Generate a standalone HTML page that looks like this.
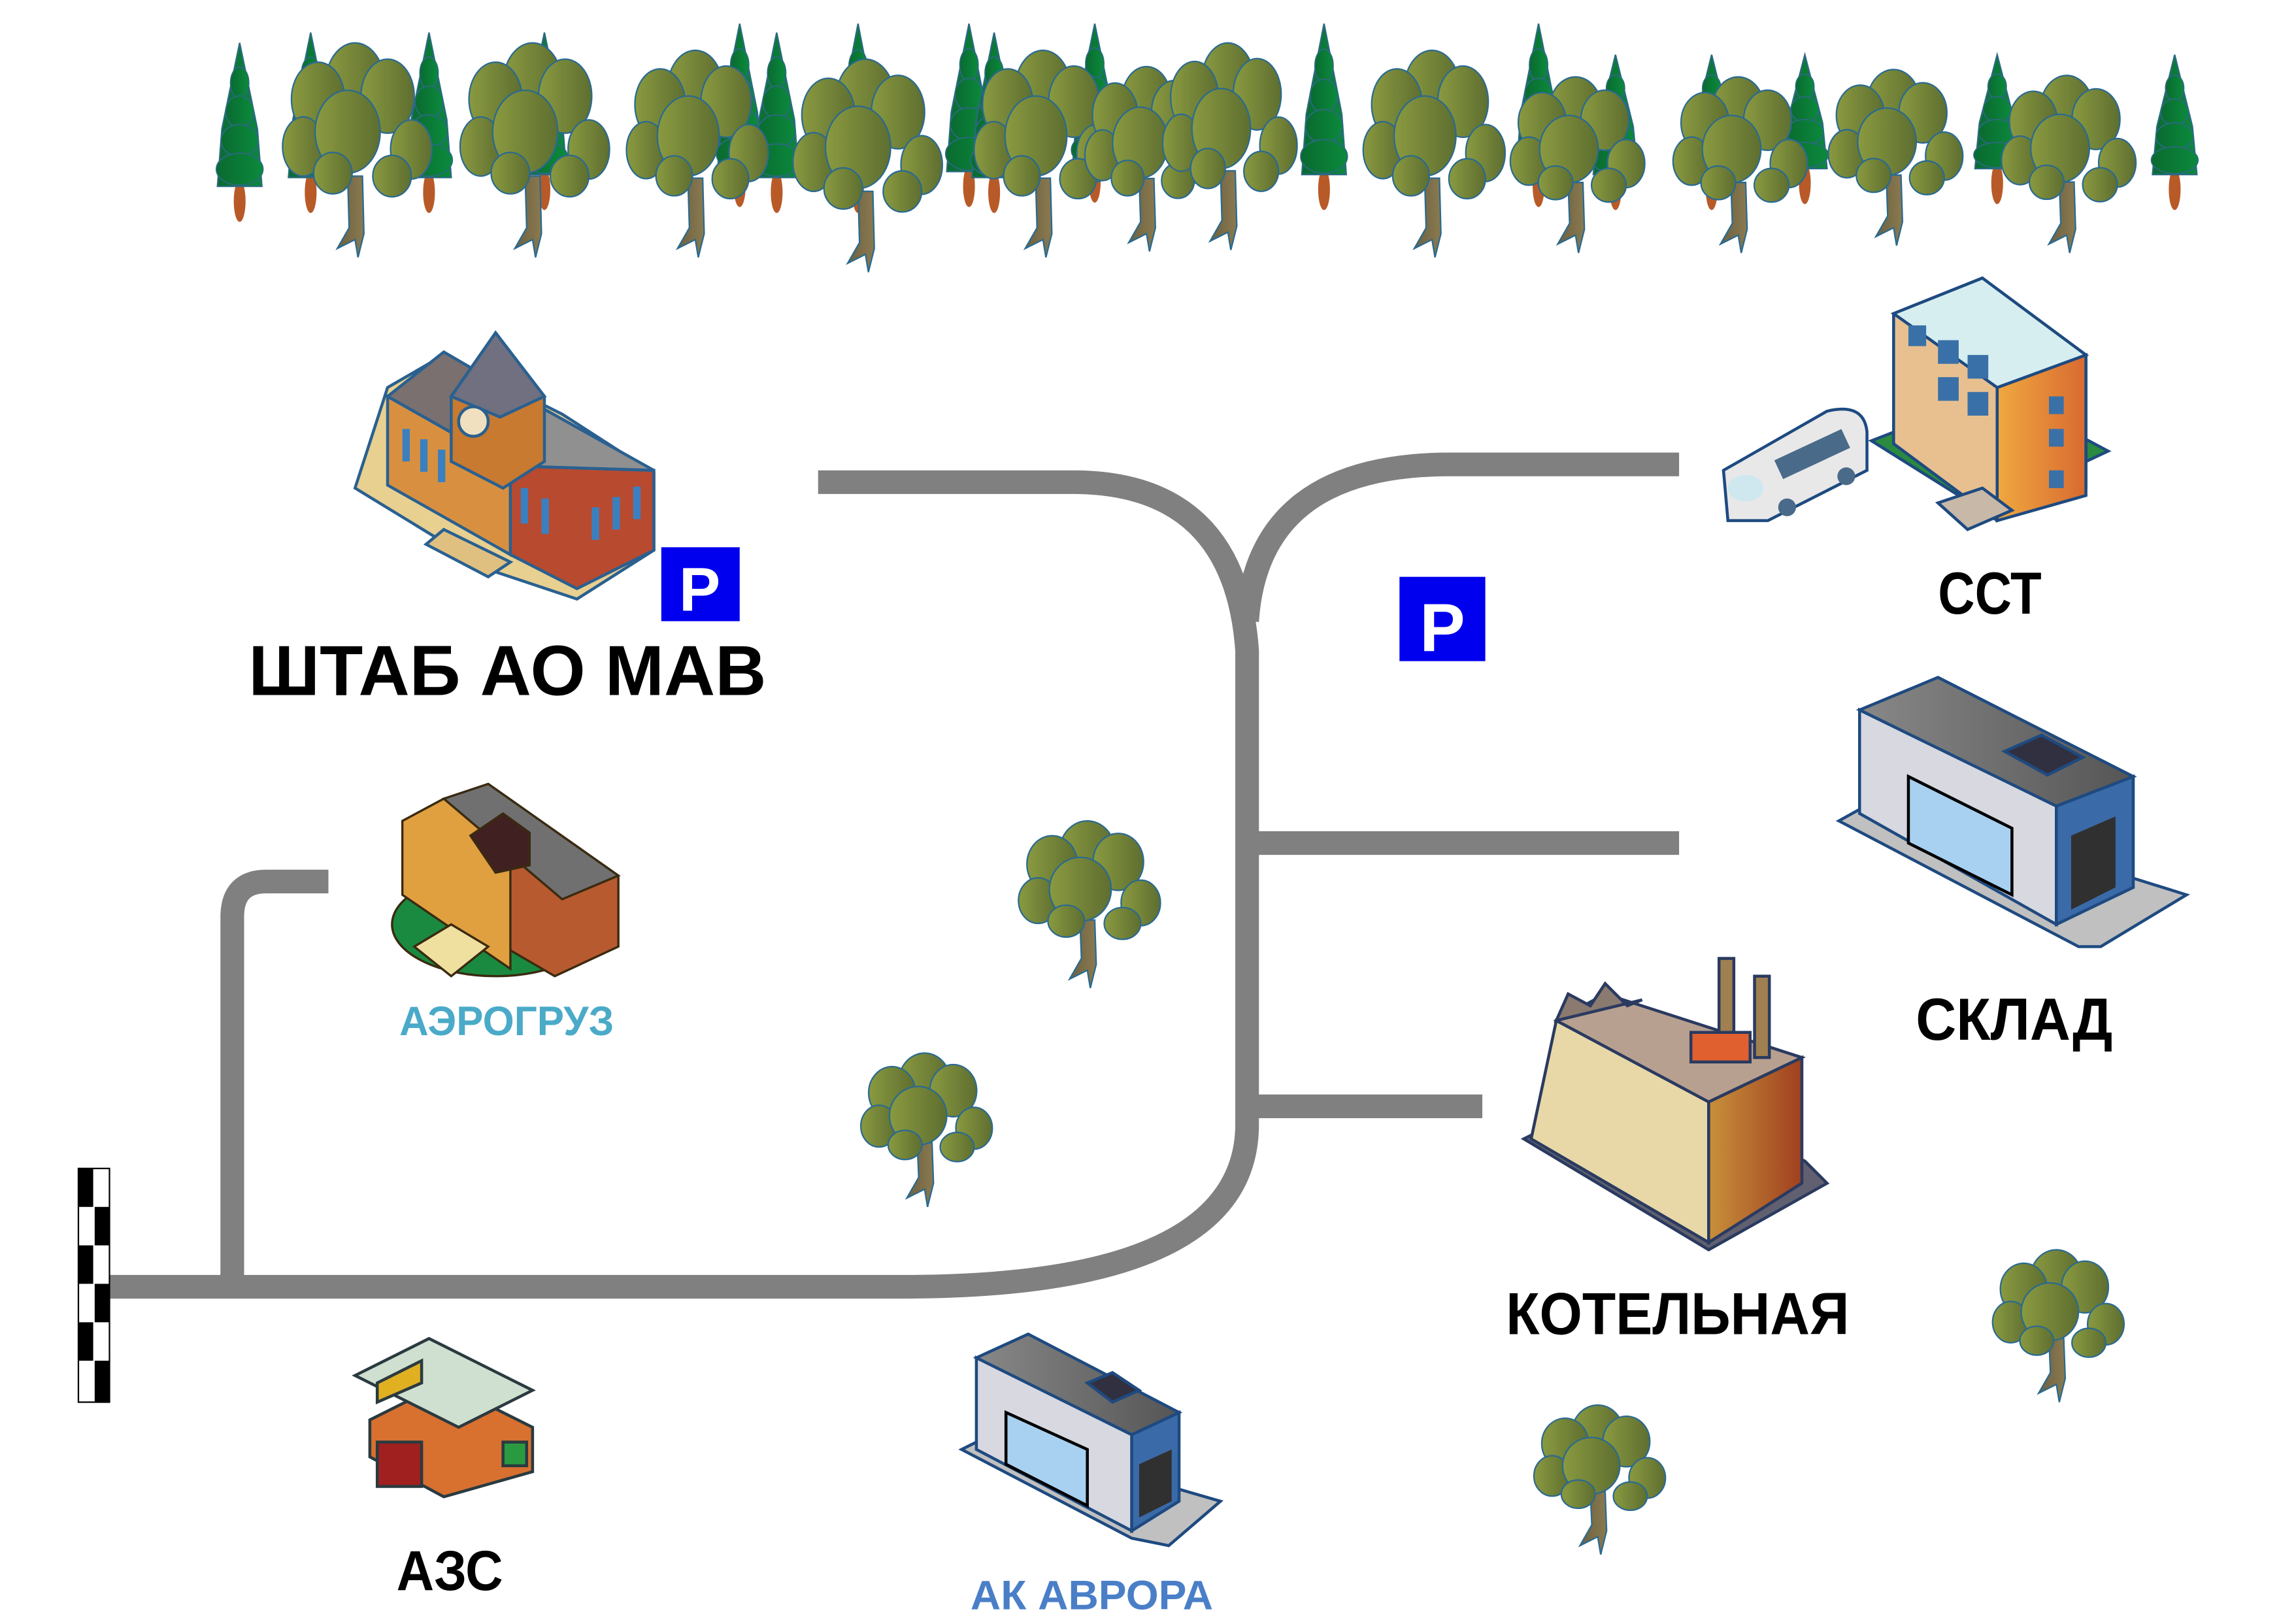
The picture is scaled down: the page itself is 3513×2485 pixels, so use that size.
<!DOCTYPE html>
<html><head><meta charset="utf-8">
<style>
html,body{margin:0;padding:0;background:#fff;}
svg{display:block;}
text{font-family:"Liberation Sans","DejaVu Sans",sans-serif;font-weight:bold;}
</style></head>
<body>
<svg id="s" width="3513" height="2485" viewBox="0 0 1552 1098" preserveAspectRatio="none" xmlns="http://www.w3.org/2000/svg">
<defs>
<linearGradient id="ol" x1="0" x2="1"><stop offset="0" stop-color="#8a9a40"/><stop offset="1" stop-color="#5e6e30"/></linearGradient>
<linearGradient id="cg" x1="0" x2="1"><stop offset="0" stop-color="#0a6a30"/><stop offset="1" stop-color="#0b8a3c"/></linearGradient>
<linearGradient id="tr" x1="0" x2="1"><stop offset="0" stop-color="#6b6040"/><stop offset="1" stop-color="#8a7a50"/></linearGradient>
<linearGradient id="gr" x1="0" x2="1"><stop offset="0" stop-color="#888"/><stop offset="1" stop-color="#555"/></linearGradient>
<linearGradient id="or" x1="0" x2="1"><stop offset="0" stop-color="#f0a840"/><stop offset="1" stop-color="#d86a30"/></linearGradient>
<linearGradient id="br" x1="0" x2="1"><stop offset="0" stop-color="#c8903a"/><stop offset="1" stop-color="#a04020"/></linearGradient>
</defs>
<g id="forest"></g>

<!-- roads -->
<g fill="none" stroke="#808080" stroke-width="16">
<path d="M553 326 H725 Q835 326 843 440 V760 Q843 870 610 870 H70"/>
<path d="M843 420 Q850 314 980 314 H1135"/>
<path d="M843 570 H1135"/>
<path d="M843 748 H1002"/>
<path d="M222 596 H180 Q157 596 157 620 V870"/>
</g>
<!-- flag -->
<rect x="53" y="790" width="21" height="158" fill="#fff" stroke="#000" stroke-width="1"/>
<g fill="#000">
<rect x="53" y="790" width="10" height="26"/><rect x="64" y="816" width="10" height="26"/>
<rect x="53" y="842" width="10" height="26"/><rect x="64" y="868" width="10" height="26"/>
<rect x="53" y="894" width="10" height="26"/><rect x="64" y="920" width="10" height="28"/>
</g>

<!-- HQ building -->
<g stroke="#2a6090" stroke-width="2">
<polygon points="240,330 330,385 390,405 442,372 442,320 380,280 300,240 262,262" fill="#e8d090"/>
<polygon points="262,268 345,315 345,375 262,328" fill="#d89040"/>
<polygon points="345,315 442,318 442,372 390,398 345,375" fill="#b84a30"/>
<polygon points="262,268 300,238 355,270 345,315" fill="#7a7070"/>
<polygon points="345,315 365,275 442,318" fill="#909090"/>
<polygon points="305,268 335,225 368,268 368,312 340,330 305,312" fill="#c87a30"/>
<polygon points="305,268 335,225 368,268 338,282" fill="#707080"/>
<circle cx="320" cy="285" r="10" fill="#f0e0c0"/>
<polygon points="300,358 345,380 330,390 288,368" fill="#e0c080"/>
</g>
<g fill="#3a80c0"><rect x="272" y="290" width="5" height="22"/><rect x="284" y="297" width="5" height="22"/><rect x="296" y="304" width="5" height="22"/><rect x="352" y="330" width="5" height="24"/><rect x="366" y="337" width="5" height="24"/><rect x="400" y="343" width="5" height="22"/><rect x="414" y="336" width="5" height="22"/><rect x="428" y="329" width="5" height="22"/></g>
<!-- P signs -->
<rect x="447" y="370" width="53" height="50" fill="#0000ee"/>
<text x="473" y="413" font-size="42" fill="#fff" text-anchor="middle" font-weight="normal">P</text>
<rect x="946" y="390" width="58" height="57" fill="#0000ee"/>
<text x="975" y="440" font-size="46" fill="#fff" text-anchor="middle" font-weight="normal">P</text>
<text x="168" y="470" font-size="48" textLength="350" lengthAdjust="spacingAndGlyphs">ШТАБ АО МАВ</text>

<!-- Aerogruz -->
<g stroke="#3a2a10" stroke-width="1.5">
<ellipse cx="335" cy="625" rx="70" ry="35" fill="#1a8a40"/>
<polygon points="272,555 330,530 418,592 418,640 375,660 272,600" fill="#b85a30"/>
<polygon points="272,555 300,540 345,568 345,655 272,605" fill="#e0a040"/>
<polygon points="300,540 330,530 418,592 380,608" fill="#707070"/>
<polygon points="318,565 340,550 358,563 358,585 335,590" fill="#402020"/>
<polygon points="280,640 305,625 330,640 305,660" fill="#f0e0a0"/>
</g>
<text x="270" y="700" font-size="28" fill="#4aaac8" textLength="145" lengthAdjust="spacingAndGlyphs">АЭРОГРУЗ</text>

<!-- CCT -->
<g stroke="#1e4a80" stroke-width="2">
<polygon points="1265,298 1340,345 1425,305 1350,265" fill="#2a8a40"/>
<polygon points="1280,212 1340,188 1410,240 1410,330 1350,352 1280,300" fill="#e8c090"/>
<polygon points="1350,262 1410,240 1410,335 1350,352" fill="url(#or)"/>
<polygon points="1280,212 1340,188 1410,240 1350,262" fill="#d6eef0"/>
<polygon points="1310,340 1340,330 1360,345 1330,358" fill="#c8b8a8"/>
<path d="M1165,318 L1235,278 Q1260,272 1262,292 V318 L1195,352 H1168 Z" fill="#e8e8e8"/>
</g>
<g fill="#3a70a8"><rect x="1290" y="220" width="12" height="14"/><rect x="1310" y="230" width="14" height="16"/><rect x="1330" y="240" width="14" height="16"/><rect x="1310" y="255" width="14" height="16"/><rect x="1330" y="265" width="14" height="16"/><rect x="1385" y="268" width="10" height="12"/><rect x="1385" y="290" width="10" height="12"/><rect x="1385" y="318" width="10" height="12"/></g>
<g fill="#4a6a8a"><rect x="1200" y="300" width="50" height="14" transform="rotate(-25 1225 307)"/><ellipse cx="1180" cy="330" rx="12" ry="9" fill="#cfe8f0"/><circle cx="1208" cy="343" r="6"/><circle cx="1248" cy="322" r="6"/></g>
<text x="1310" y="415" font-size="40" textLength="70" lengthAdjust="spacingAndGlyphs">ССТ</text>

<!-- Sklad -->
<g stroke="#1e4a80" stroke-width="2">
<polygon points="1243,555 1270,540 1478,605 1420,640 1405,640" fill="#c0c0c0"/>
<polygon points="1257,480 1390,545 1390,625 1257,550" fill="#d8d8e0"/>
<polygon points="1390,545 1442,525 1442,600 1390,625" fill="#3a6aa8"/>
<polygon points="1257,480 1310,458 1442,525 1390,545" fill="url(#gr)"/>
<polygon points="1355,508 1380,497 1408,512 1384,524" fill="#303040"/>
</g>
<polygon points="1290,525 1360,560 1360,605 1290,570" fill="#a8d0f0" stroke="#000" stroke-width="2"/>
<polygon points="1400,565 1430,552 1430,600 1400,615" fill="#303030"/>
<text x="1295" y="703" font-size="40" textLength="133" lengthAdjust="spacingAndGlyphs">СКЛАД</text>

<!-- Kotelnaya -->
<g stroke="#2a3a60" stroke-width="2">
<polygon points="1030,770 1155,845 1235,800 1220,785 1110,730" fill="#606070"/>
<polygon points="1052,690 1155,745 1155,840 1035,770" fill="#e8d8a8"/>
<polygon points="1155,745 1218,715 1218,800 1155,840" fill="url(#br)"/>
<polygon points="1052,690 1085,672 1218,715 1155,745" fill="#b8a090"/>
<polygon points="1052,690 1060,672 1075,680 1085,665 1100,680 1110,676" fill="#8a7a70"/>
<rect x="1162" y="648" width="10" height="60" fill="#a08050"/>
<rect x="1186" y="660" width="10" height="55" fill="#a08050"/>
<rect x="1143" y="698" width="40" height="20" fill="#e06030"/>
</g>
<text x="1018" y="902" font-size="40" textLength="232" lengthAdjust="spacingAndGlyphs">КОТЕЛЬНАЯ</text>

<!-- AZS -->
<g stroke="#2a3a40" stroke-width="2">
<polygon points="250,960 300,935 360,965 360,995 300,1012 250,985" fill="#d87030"/>
<polygon points="240,930 290,905 360,940 310,965" fill="#d0e0d0"/>
<polygon points="255,935 285,920 285,935 255,948" fill="#e0b020"/>
<rect x="255" y="975" width="30" height="30" fill="#a02020"/>
<rect x="340" y="975" width="16" height="16" fill="#2a9a40"/>
</g>
<text x="268" y="1075" font-size="38" textLength="72" lengthAdjust="spacingAndGlyphs">АЗС</text>

<!-- AK Avrora -->
<g stroke="#1e4a80" stroke-width="2">
<polygon points="650,980 670,970 825,1015 790,1045 765,1040" fill="#c0c0c0"/>
<polygon points="660,918 765,970 765,1035 660,980" fill="#d8d8e0"/>
<polygon points="765,970 797,955 797,1015 765,1035" fill="#3a6aa8"/>
<polygon points="660,918 695,902 797,955 765,970" fill="url(#gr)"/>
<polygon points="735,935 752,928 770,940 752,948" fill="#303040"/>
</g>
<polygon points="680,955 735,980 735,1018 680,990" fill="#a8d0f0" stroke="#000" stroke-width="2"/>
<polygon points="770,990 792,980 792,1015 770,1026" fill="#303030"/>
<text x="656" y="1088" font-size="28" fill="#4a7fc8" textLength="164" lengthAdjust="spacingAndGlyphs">АК АВРОРА</text>
</svg>
<script>
var NS="http://www.w3.org/2000/svg",F=document.getElementById("forest"),S=document.getElementById("s");
function el(p,t,a){var e=document.createElementNS(NS,t);for(var k in a)e.setAttribute(k,a[k]);p.appendChild(e);return e;}
function con(g,x,top,bot){
 el(g,"ellipse",{cx:x,cy:bot-12,rx:4,ry:14,fill:"#b85a28"});
 var h=bot-22-top;
 el(g,"path",{d:"M"+x+" "+top+" L"+(x+6)+" "+(top+h*0.3)+" L"+(x+12)+" "+(top+h*0.6)+" L"+(x+15)+" "+(top+h)+" L"+(x-15)+" "+(top+h)+" L"+(x-12)+" "+(top+h*0.6)+" L"+(x-6)+" "+(top+h*0.3)+" Z",fill:"url(#cg)",stroke:"#2a6a80","stroke-width":1});
 for(var i=1;i<5;i++){var y=top+h*(i/5)+h*0.08;var w=3+i*3.2;
  el(g,"ellipse",{cx:x,cy:y,rx:w,ry:h/9,fill:"url(#cg)",stroke:"#2a6a80","stroke-width":0.8});}
}
function dec(g,x,top,bot,w){
 var ct=top+(bot-top)*0.72;
 el(g,"path",{d:"M"+(x-5)+" "+(ct-10)+" L"+(x-4)+" "+(bot-14)+" L"+(x-12)+" "+bot+" L"+x+" "+(bot-6)+" L"+(x+2)+" "+(bot+6)+" L"+(x+6)+" "+(bot-10)+" L"+(x+5)+" "+(ct-10)+" Z",fill:"url(#tr)",stroke:"#2a6a90","stroke-width":1});
 var hh=ct-top;
 var pts=[[0,0.28,0.2,0.28],[-0.25,0.38,0.18,0.25],[0.22,0.36,0.18,0.25],[-0.35,0.7,0.14,0.2],[0.38,0.72,0.14,0.2],[-0.05,0.6,0.22,0.28],[-0.15,0.88,0.13,0.14],[0.25,0.9,0.13,0.14]];
 pts.forEach(function(p){el(g,"ellipse",{cx:x+p[0]*w,cy:top+p[1]*hh,rx:w*p[2],ry:hh*p[3],fill:"url(#ol)",stroke:"#2a6a90","stroke-width":1});});
}
var conifers=[[162,29,148],[210,22,142],[290,22,142],[368,22,140],[500,16,138],[525,22,142],[580,16,142],[655,16,138],[672,22,142],[740,16,135],[895,16,140],[1040,16,138],[1092,37,140],[1157,37,140],[1220,37,136],[1350,37,136],[1470,37,140]];
var decid=[[240,29,168,100],[360,29,168,100],[470,34,168,95],[585,40,178,100],[705,34,168,95],[775,45,164,85],[830,29,163,90],[968,34,168,95],[1065,52,165,90],[1175,52,165,90],[1280,47,160,90],[1397,51,165,90]];
conifers.forEach(function(c){con(F,c[0],c[1],c[2]);});
decid.forEach(function(d){dec(F,d[0],d[1],d[2],d[3]);});
var T=el(S,"g",{});
[[735,555,662,95],[625,712,810,88],[1390,845,942,88],[1080,950,1045,88]].forEach(function(d){dec(T,d[0],d[1],d[2],d[3]);});
</script>
</body></html>
